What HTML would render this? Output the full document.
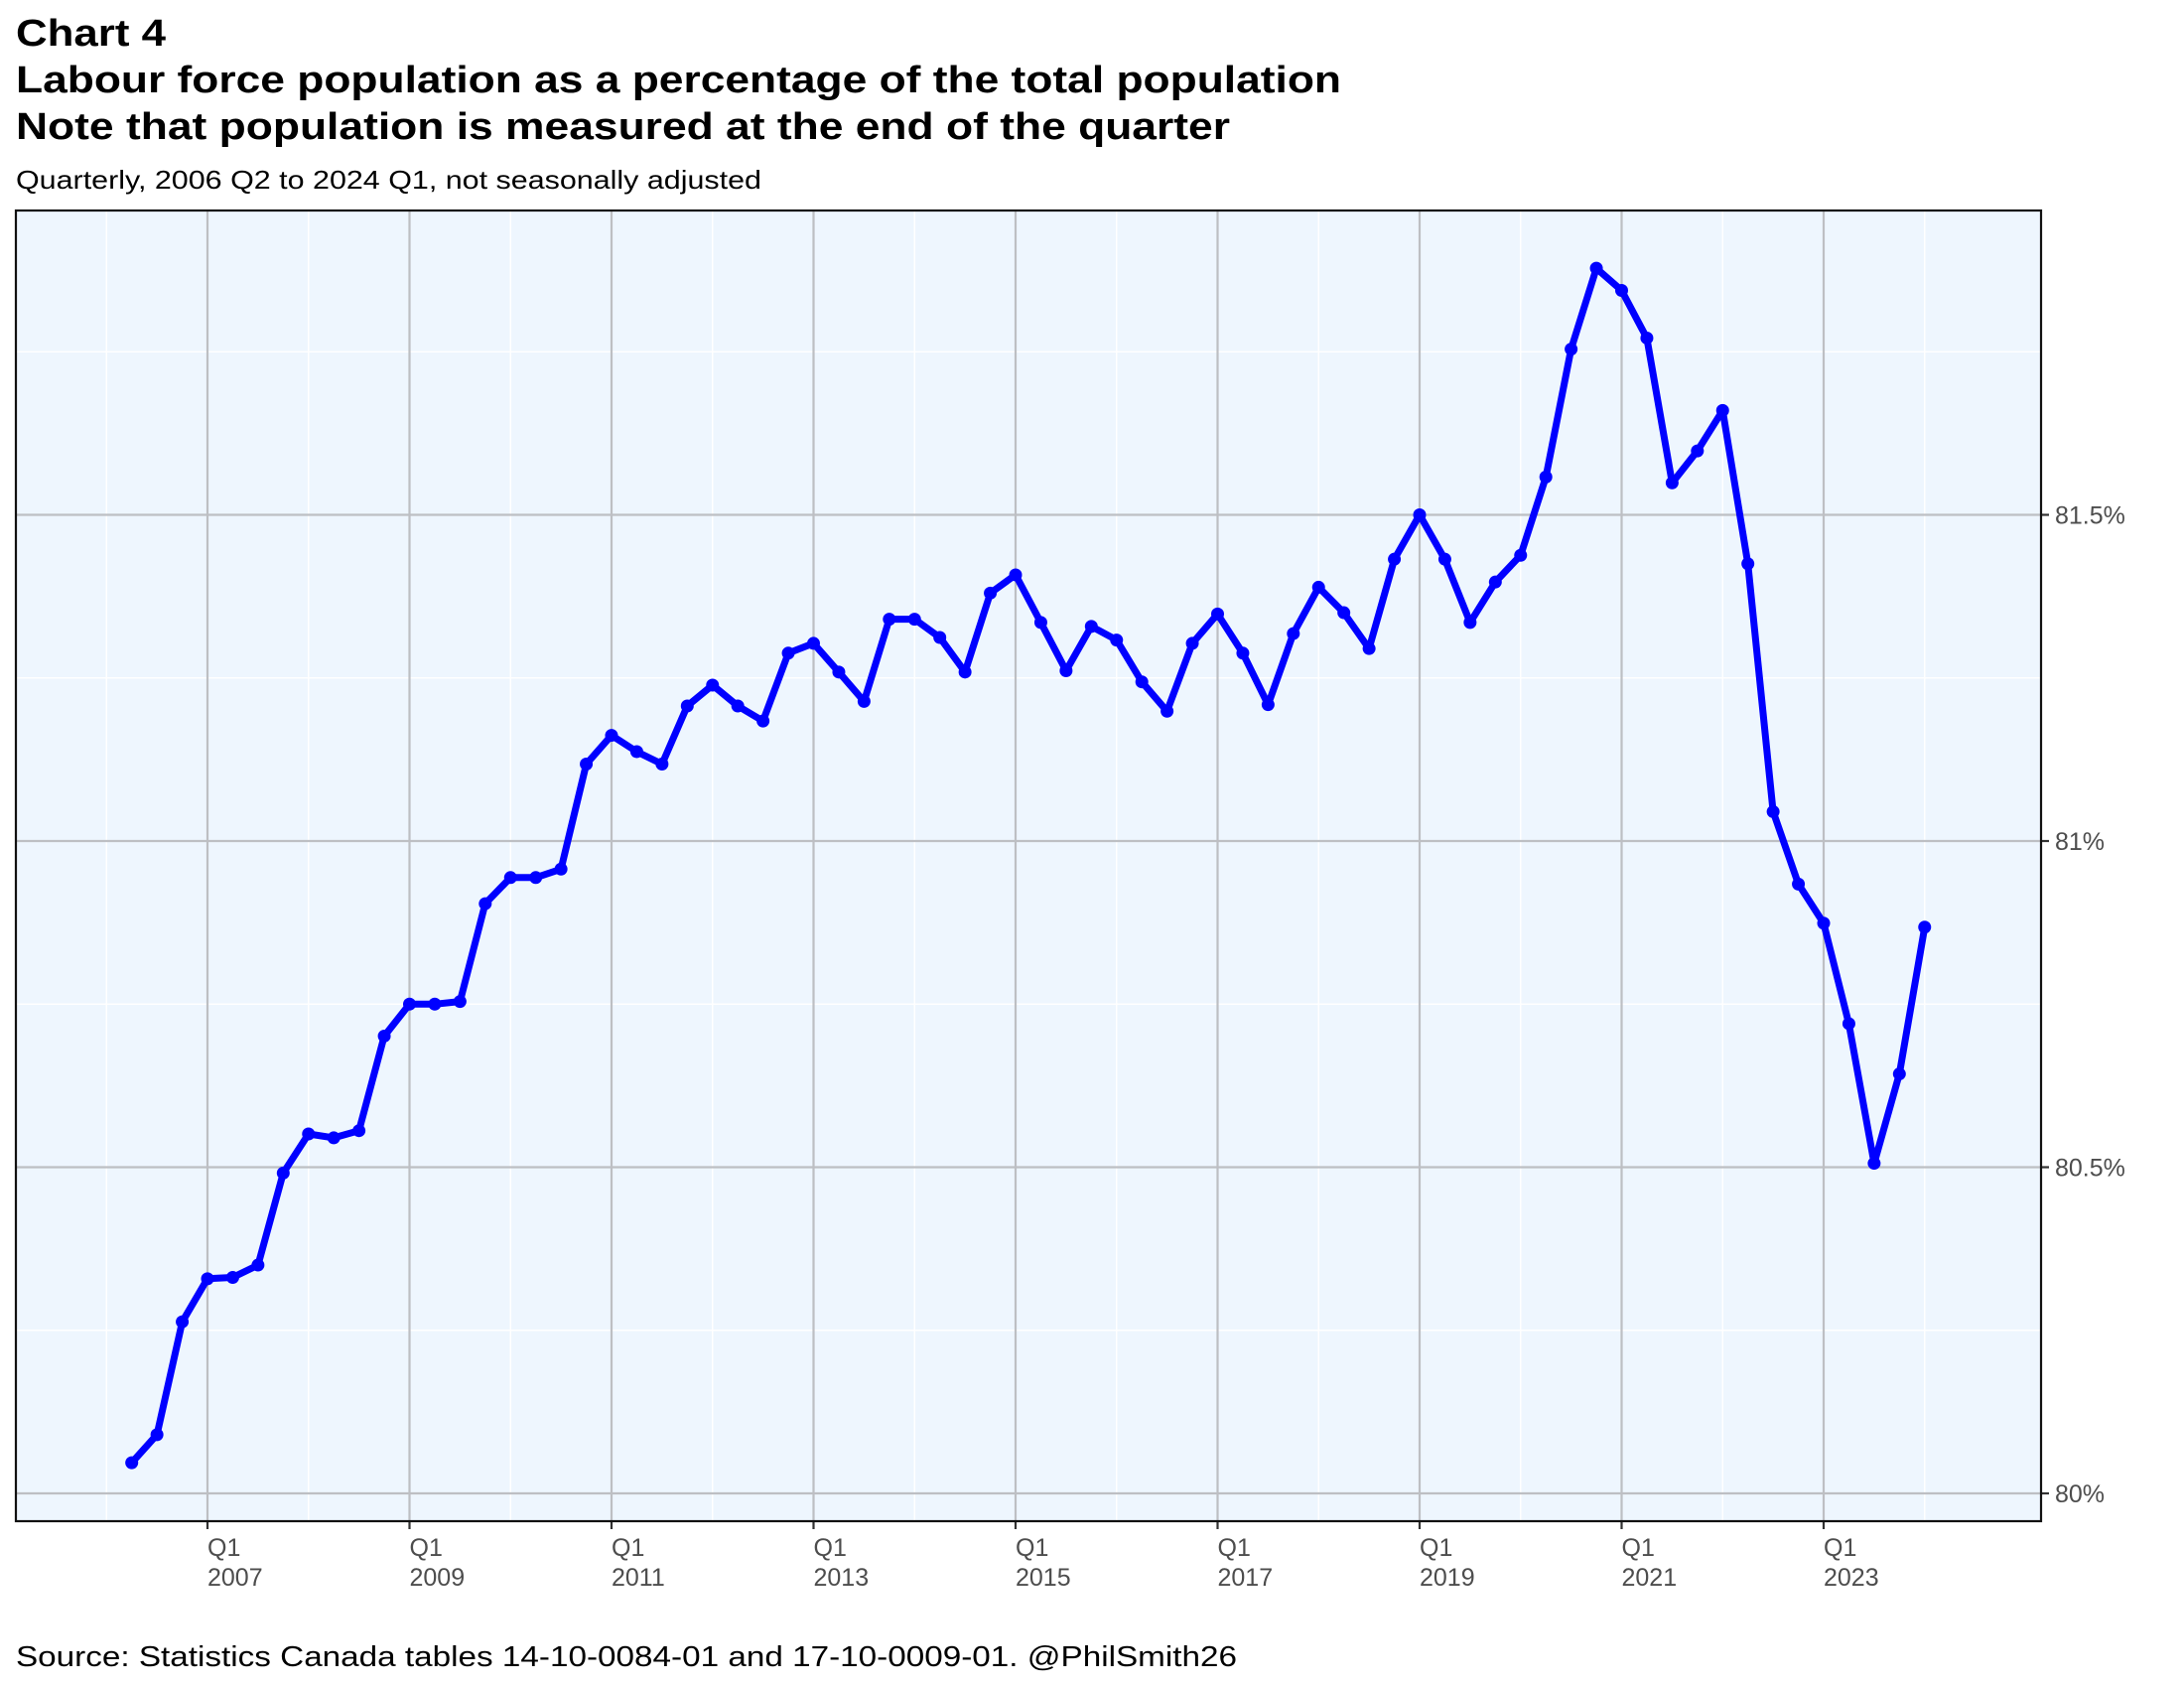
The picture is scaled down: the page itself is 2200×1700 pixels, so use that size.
<!DOCTYPE html>
<html><head><meta charset="utf-8"><style>
html,body{margin:0;padding:0;background:#fff;}
svg{display:block;font-family:"Liberation Sans",Arial,sans-serif;}
</style></head><body>
<svg id="chart" width="2200" height="1700" viewBox="0 0 2200 1700">
<rect width="2200" height="1700" fill="#fff"/>
<text x="16" y="46" font-size="38" font-weight="bold" fill="#000" textLength="151" lengthAdjust="spacingAndGlyphs">Chart 4</text>
<text x="16" y="93" font-size="38" font-weight="bold" fill="#000" textLength="1335" lengthAdjust="spacingAndGlyphs">Labour force population as a percentage of the total population</text>
<text x="16" y="140" font-size="38" font-weight="bold" fill="#000" textLength="1223" lengthAdjust="spacingAndGlyphs">Note that population is measured at the end of the quarter</text>
<text x="16" y="190" font-size="26" fill="#000" textLength="751" lengthAdjust="spacingAndGlyphs">Quarterly, 2006 Q2 to 2024 Q1, not seasonally adjusted</text>
<text x="16" y="1678" font-size="29" fill="#000" textLength="1230" lengthAdjust="spacingAndGlyphs">Source: Statistics Canada tables 14-10-0084-01 and 17-10-0009-01. @PhilSmith26</text>
<g id="plot"></g>
</svg>
<script>
const quarters = ["2006Q2","2006Q3","2006Q4","2007Q1","2007Q2","2007Q3","2007Q4","2008Q1","2008Q2","2008Q3","2008Q4","2009Q1","2009Q2","2009Q3","2009Q4","2010Q1","2010Q2","2010Q3","2010Q4","2011Q1","2011Q2","2011Q3","2011Q4","2012Q1","2012Q2","2012Q3","2012Q4","2013Q1","2013Q2","2013Q3","2013Q4","2014Q1","2014Q2","2014Q3","2014Q4","2015Q1","2015Q2","2015Q3","2015Q4","2016Q1","2016Q2","2016Q3","2016Q4","2017Q1","2017Q2","2017Q3","2017Q4","2018Q1","2018Q2","2018Q3","2018Q4","2019Q1","2019Q2","2019Q3","2019Q4","2020Q1","2020Q2","2020Q3","2020Q4","2021Q1","2021Q2","2021Q3","2021Q4","2022Q1","2022Q2","2022Q3","2022Q4","2023Q1","2023Q2","2023Q3","2023Q4","2024Q1"];
const values = [80.047,80.09,80.263,80.329,80.331,80.350,80.491,80.551,80.545,80.556,80.701,80.750,80.750,80.754,80.904,80.944,80.944,80.957,81.118,81.162,81.137,81.118,81.207,81.239,81.207,81.184,81.288,81.303,81.259,81.214,81.340,81.340,81.312,81.259,81.380,81.408,81.335,81.261,81.329,81.308,81.244,81.199,81.303,81.348,81.288,81.209,81.318,81.389,81.350,81.295,81.432,81.500,81.432,81.335,81.397,81.438,81.558,81.754,81.878,81.844,81.771,81.549,81.598,81.660,81.425,81.045,80.934,80.874,80.720,80.506,80.643,80.868];
const yTicks = [80, 80.5, 81, 81.5];
const yTickLabels = ["80%","80.5%","81%","81.5%"];
const yMinor = [80.25, 80.75, 81.25, 81.75];
const xTickYears = [2007,2009,2011,2013,2015,2017,2019,2021,2023];
const xMinorYears = [2006,2008,2010,2012,2014,2016,2018,2020,2022,2024];

const L=16, R=2056, T=212, B=1532;
const x0=209, perYear=101.75;
function xYear(yr){ return x0 + (yr-2007)*perYear; }
function xQ(q){ const y=+q.slice(0,4), k=+q.slice(5); return xYear(y + (k-1)/4); }
const y0=1504, perPct=657;
function yV(v){ return y0 - (v-80)*perPct; }

const NS="http://www.w3.org/2000/svg";
const g=document.getElementById('plot');
function mk(tag, attrs, parent){ const e=document.createElementNS(NS,tag); for(const k in attrs) e.setAttribute(k,attrs[k]); (parent||g).appendChild(e); return e; }

const bg=mk('rect',{x:L,y:T,width:R-L,height:B-T,fill:'#eef6fe'});



yMinor.forEach(v=>{ const l=mk('line',{x1:L,x2:R,y1:yV(v),y2:yV(v),stroke:'#fff','stroke-width':1.5});

 });
xMinorYears.forEach(yr=>{ const l=mk('line',{x1:xYear(yr),x2:xYear(yr),y1:T,y2:B,stroke:'#fff','stroke-width':1.5});

 });
yTicks.forEach((v,i)=>{ const y=yV(v);
 const l=mk('line',{x1:L,x2:R,y1:y,y2:y,stroke:'#bdbfc3','stroke-width':2.2});
 
 
 const t=mk('line',{x1:R,x2:R+8,y1:y,y2:y,stroke:'#333','stroke-width':2.2});
 
 
 const tx=mk('text',{x:R+14,y:y+9,'font-size':25,fill:'#4d4d4d'}); tx.textContent=yTickLabels[i];
 
 
});
xTickYears.forEach(yr=>{ const x=xYear(yr);
 const l=mk('line',{x1:x,x2:x,y1:T,y2:B,stroke:'#bdbfc3','stroke-width':2.2});
 
 
 const t=mk('line',{x1:x,x2:x,y1:B,y2:B+8,stroke:'#333','stroke-width':2.2});
 
 
 const tx=mk('text',{x:x,y:1567,'font-size':25,fill:'#4d4d4d'}); tx.textContent='Q1';
 
 
 const ty=mk('text',{x:x,y:1597,'font-size':25,fill:'#4d4d4d'}); ty.textContent=String(yr);
 
 
});
const frame=mk('rect',{x:L,y:T,width:R-L,height:B-T,fill:'none',stroke:'#111','stroke-width':2.2});



const pts=quarters.map((q,i)=>xQ(q).toFixed(1)+','+yV(values[i]).toFixed(1)).join(' ');
const line=mk('polyline',{points:pts,fill:'none',stroke:'#0000ff','stroke-width':7,'stroke-linejoin':'round','stroke-linecap':'round'});


quarters.forEach((q,i)=>{ const c=mk('circle',{cx:xQ(q),cy:yV(values[i]),r:6.5,fill:'#0000ff'});
 
  });
</script>
</body></html>
